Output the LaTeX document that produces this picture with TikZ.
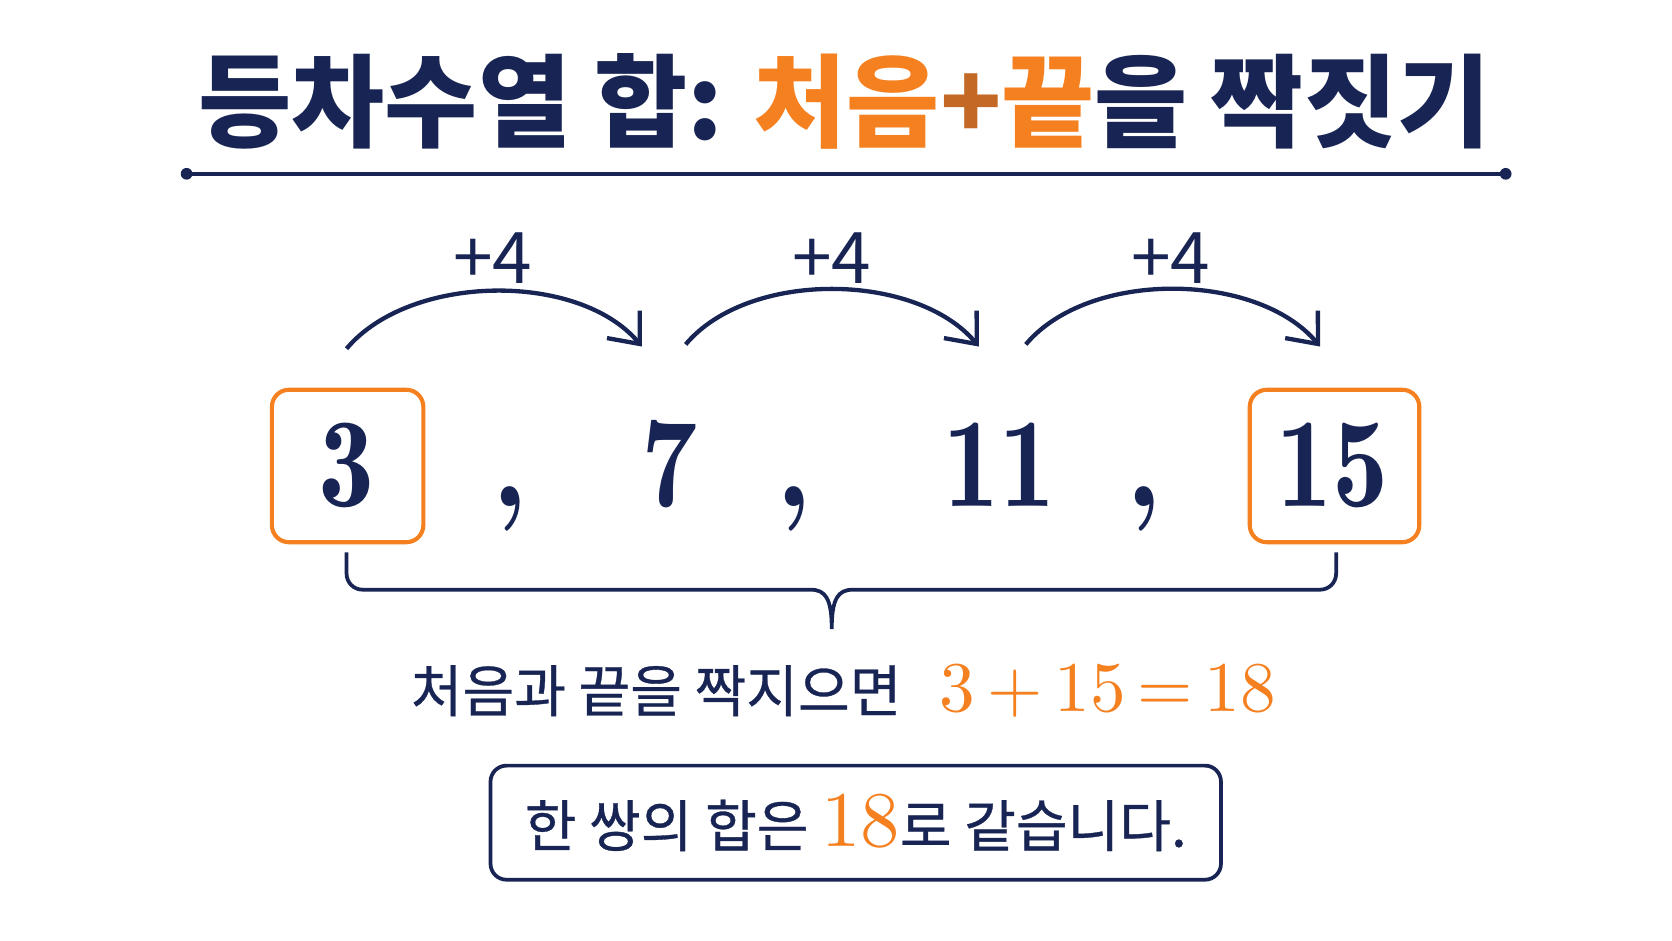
\documentclass[tikz,border=0pt]{standalone}
\usepackage{fontspec}
\usepackage{xcolor,tikz}
\newfontfamily\kr{Noto Sans CJK KR}
\newfontfamily\krm{Noto Sans CJK KR}[FakeBold=0.6]
\newfontfamily\numfont{lmroman10-regular}[Extension=.otf]
\newfontfamily\demifont{lmromandemi10-regular}[Extension=.otf,FakeStretch=0.88]
\usetikzlibrary{calc,positioning,arrows.meta}
\definecolor{navy}{RGB}{24,37,84}
\definecolor{orng}{RGB}{245,128,32}
\definecolor{plusc}{RGB}{196,104,38}
\tikzset{>={Straight Barb[length=2.4mm,width=4mm]}}
\tikzset{
  term/.style={anchor=base, text=navy, font=\demifont\fontsize{34}{40}\selectfont, inner sep=0pt},
  endbox/.style={draw=orng, line width=1.1pt, rounded corners=0.16cm, minimum height=1.43cm},
  jump/.style={->, draw=navy, line width=1.15pt, looseness=0.85},
  jumplabel/.style={text=navy, font=\kr\fontsize{19}{22}\selectfont},
}

\begin{document}
\begin{tikzpicture}
        \useasboundingbox (0,0.586) rectangle (15.68,9.41);
        %%%% title
        \node[text=navy, font=\kr\bfseries\fontsize{27}{32}\selectfont] (title) at (7.92,8.46)
            {등차수열 합: \textcolor{orng}{처음}\textcolor{plusc}{+}\textcolor{orng}{끝}을 짝짓기};
        \coordinate (rl) at (1.75,7.78);
        \coordinate (rr) at (14.12,7.78);
        \draw[navy, line width=1.2pt] (rl) -- (rr);
        \fill[navy] (rl) circle (0.055) (rr) circle (0.055);
        %%%% terms
        \node[term] (n1) at (3.25,4.66) {3};
        \node[term] (n2) at (6.28,4.66) {7};
        \node[term] (n3) at (9.37,4.66) {11};
        \node[term] (n4) at (12.5,4.66) {15};
        \node[term] (c1) at (4.78,4.66) {,};
        \node[term] (c2) at (7.45,4.66) {,};
        \node[term] (c3) at (10.73,4.66) {,};
        \node[endbox, minimum width=1.42cm] (b1) at (3.26,5.04) {};
        \node[endbox, minimum width=1.59cm] (b4) at (12.515,5.04) {};
        %%%% steps
        \coordinate (s1) at (3.25,6.14);
        \coordinate (e1) at (6.02,6.16);
        \coordinate (s2) at (6.43,6.18);
        \coordinate (e2) at (9.18,6.16);
        \coordinate (s3) at (9.62,6.18);
        \coordinate (e3) at (12.38,6.16);
        \draw[jump] (s1) to[out=50,in=130] (e1);
        \draw[jump] (s2) to[out=50,in=130] (e2);
        \draw[jump] (s3) to[out=50,in=130] (e3);
        \node[jumplabel] (p1) at (4.62,6.99) {+4};
        \node[jumplabel] (p2) at (7.80,6.99) {+4};
        \node[jumplabel] (p3) at (10.98,6.99) {+4};
        %%%% pair brace
        \coordinate (bl) at (3.25,4.23);
        \coordinate (br) at (12.53,4.23);
        \coordinate (tip) at (7.80,3.51);
        \draw[navy, line width=1pt] (bl) -- (3.25,4.03) to[out=-90,in=180] (3.40,3.88)
            -- (7.60,3.88) .. controls (7.74,3.88) and (7.80,3.80) .. (tip)
            .. controls (7.80,3.80) and (7.86,3.88) .. (8.00,3.88)
            -- (12.38,3.88) to[out=0,in=-90] (12.53,4.03) -- (br);
        %%%% sum
        \node[text=navy, font=\krm\fontsize{15}{18}\selectfont] (sum) at (7.91,2.93)
            {처음과 끝을 짝지으면\hspace{0.36cm}\textcolor{orng}{\numfont\fontsize{19}{24}\selectfont 3\,+\,15\,=\,18}};
        \node[draw=navy, line width=1pt, rounded corners=0.15cm, minimum width=6.85cm, minimum height=1.07cm,
            text=navy, font=\krm\fontsize{15}{18}\selectfont] (res) at (8.025,1.695)
            {한 쌍의 합은 \textcolor{orng}{\numfont\fontsize{21}{24}\selectfont 18}로 같습니다.};
\end{tikzpicture}
\end{document}
